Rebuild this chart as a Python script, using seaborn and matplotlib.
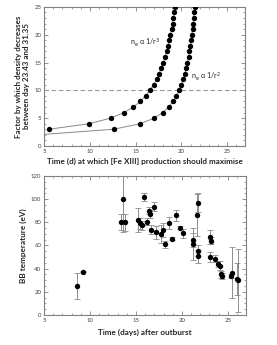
import matplotlib
matplotlib.use("Agg")
import matplotlib.pyplot as plt
from matplotlib.ticker import MultipleLocator
import seaborn as sns
import pandas as pd

# ---- top panel data (time at which [Fe XIII] maximises vs factor) ----
factor_r3 = [3, 4, 5, 6, 7, 8, 9, 10, 11, 12, 13, 14, 15, 16, 17, 18, 19, 20, 21, 22, 23, 24, 25]
time_r3 = [5.52, 9.95, 12.27, 13.74, 14.75, 15.51, 16.10, 16.57, 16.96, 17.29, 17.57, 17.81,
           18.03, 18.22, 18.39, 18.54, 18.68, 18.81, 18.93, 19.04, 19.13, 19.23, 19.31]
factor_r2 = [2, 3, 4, 5, 6, 7, 8, 9, 10, 11, 12, 13, 14, 15, 16, 17, 18, 19, 20, 21, 22, 23, 24, 25]
time_r2 = [4.31, 12.61, 15.51, 17.02, 17.97, 18.62, 19.10, 19.47, 19.77, 20.01, 20.22, 20.39,
           20.54, 20.67, 20.79, 20.89, 20.99, 21.07, 21.15, 21.22, 21.28, 21.34, 21.40, 21.45]
threshold = 10

# ---- bottom panel data (BB temperature) ----
bb_days = [8.55, 9.25, 13.4, 13.55, 13.85, 15.25, 15.45, 15.65, 15.9, 16.2, 16.4, 16.55, 16.65,
           16.95, 17.15, 17.75, 17.95, 18.15, 18.6, 18.95, 19.35, 19.75, 20.15, 21.25, 21.25,
           21.65, 21.8, 21.7, 21.8, 23.05, 23.15, 23.05, 23.55, 23.95, 24.1, 24.2, 24.4,
           25.3, 25.5, 25.95, 26.05]
bb_temp = [25, 37.5, 80, 100, 80, 82, 79, 77.5, 101.5, 80.5, 90, 87, 73.5,
           93.5, 71.5, 70, 73.5, 61, 79.5, 66, 86, 75.5, 70.5, 64.5, 61.5,
           86.5, 97, 55.5, 50.5, 67.5, 64, 50, 48.5, 44, 42.5, 35, 33.5,
           33.5, 36.5, 31, 30]
bb_err = [11.5, 0.8, 7, 28, 7.5, 10, 5, 4, 3.5, 3, 3, 3.5, 4,
          4, 5.5, 8, 6, 3, 5, 1.5, 5, 1.5, 4, 6, 14,
          18, 8, 5, 5.5, 6, 3, 4, 3, 3, 4, 3, 2.5,
          2, 22, 14, 27]

top_r3 = pd.DataFrame({"time": time_r3, "factor": factor_r3})
top_r2 = pd.DataFrame({"time": time_r2, "factor": factor_r2})
bottom = pd.DataFrame({"day": bb_days, "temp": bb_temp, "err": bb_err})

sns.set_style("ticks")
plt.rcParams["font.family"] = ["Lato", "DejaVu Sans"]
plt.rcParams["mathtext.fontset"] = "dejavusans"

fig = plt.figure(figsize=(2.77, 3.45), dpi=100)
ax1 = fig.add_axes([0.159, 0.577, 0.727, 0.403])
ax2 = fig.add_axes([0.159, 0.087, 0.730, 0.403])

line_col = "#8a8a8a"
spine_col = "#808080"

# top panel
for df in (top_r3, top_r2):
    sns.lineplot(data=df, x="time", y="factor", ax=ax1, color=line_col, lw=0.7,
                 sort=False, estimator=None)
    sns.scatterplot(data=df, x="time", y="factor", ax=ax1, color="black", s=15,
                    edgecolor="black", linewidth=0, zorder=3, clip_on=True)
ax1.axhline(threshold, color="#999999", lw=0.8, ls=(0, (4, 2.5)))
ax1.text(14.4, 18.6, r"n$_\mathrm{e}$ α 1/r$^3$", fontsize=5.2, ha="left", va="center")
ax1.text(21.1, 12.4, r"n$_\mathrm{e}$ α 1/r$^2$", fontsize=5.2, ha="left", va="center")
ax1.set_xlim(5, 27)
ax1.set_ylim(0, 25)
ax1.xaxis.set_major_locator(MultipleLocator(5))
ax1.xaxis.set_minor_locator(MultipleLocator(1))
ax1.yaxis.set_major_locator(MultipleLocator(5))
ax1.yaxis.set_minor_locator(MultipleLocator(1))
ax1.set_xlabel("Time (d) at which [Fe XIII] production should maximise",
               fontsize=5.9, fontweight="bold", labelpad=3)
ax1.set_ylabel("Factor by which density decreases\nbetween day 23.43 and 31.35",
               fontsize=5.8, fontweight="bold", labelpad=3)

# bottom panel
ax2.errorbar(bottom["day"], bottom["temp"], yerr=bottom["err"], fmt="none",
             ecolor="#8c8c8c", elinewidth=0.7, capsize=2, capthick=0.6, zorder=2)
sns.scatterplot(data=bottom, x="day", y="temp", ax=ax2, color="black", s=15,
                edgecolor="black", linewidth=0, zorder=3)
ax2.set_xlim(5, 27)
ax2.set_ylim(0, 120)
ax2.xaxis.set_major_locator(MultipleLocator(5))
ax2.xaxis.set_minor_locator(MultipleLocator(1))
ax2.yaxis.set_major_locator(MultipleLocator(20))
ax2.yaxis.set_minor_locator(MultipleLocator(5))
ax2.set_xlabel("Time (days) after outburst", fontsize=5.9, fontweight="bold", labelpad=4)
ax2.set_ylabel("BB temperature (eV)", fontsize=5.9, fontweight="bold", labelpad=3)

for ax in (ax1, ax2):
    for sp in ax.spines.values():
        sp.set_visible(True)
        sp.set_color(spine_col)
        sp.set_linewidth(0.8)
    ax.tick_params(which="both", direction="in", top=True, right=True,
                   color=spine_col, labelsize=4.3, labelcolor="#444444", pad=2)
    ax.tick_params(which="major", length=3, width=0.6)
    ax.tick_params(which="minor", length=1.5, width=0.5)

fig.savefig("out.png", dpi=100)
